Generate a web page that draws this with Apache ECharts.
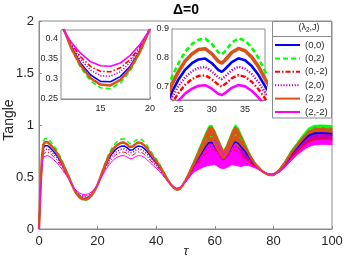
<!DOCTYPE html>
<html><head><meta charset="utf-8">
<script src="https://cdn.jsdelivr.net/npm/echarts@6/dist/echarts.min.js"></script>
<style>html,body{margin:0;padding:0;background:#fff}#c{width:349px;height:262px}</style>
</head><body><div id="c"></div>
<script>
// time grid (tau)
const tau = [0,0.5,1,1.5,2,3,4,5,6,7,
  8,9,10,11,12,13,14,15,16,17,
  18,19,20,21,22,23,24,25,26,27,
  28,29,30,31,31.5,32,33,34,35,36,
  37,38,39,40,41,42,43,44,45,46,
  47,48,49,50,51,52,53,54,55,56,
  57,58,59,60,61,62,63,64,65,66,
  67,68,69,70,71,72,73,74,75,76,
  77,78,79,80,82,84,86,88,90,92,
  94,96,98,100];

const legendNames = ['(0,0)','(0,2)','(0,-2)','(2,0)','(2,2)','(2,-2)'];

// (lambda2,J) = (0,0)
const s00 = [0,0.38,0.66,0.78,0.80,0.80,0.775,0.745,0.71,0.665,
  0.615,0.56,0.505,0.44,0.382,0.339,0.31,0.294,0.293,0.306,
  0.332,0.372,0.426,0.495,0.565,0.628,0.683,0.727,0.76,0.782,
  0.795,0.798,0.782,0.758,0.752,0.762,0.786,0.799,0.792,0.772,
  0.742,0.703,0.668,0.635,0.60,0.555,0.51,0.465,0.428,0.398,
  0.38,0.388,0.42,0.465,0.514,0.568,0.619,0.663,0.708,0.753,
  0.797,0.83,0.832,0.798,0.75,0.708,0.672,0.707,0.753,0.805,
  0.838,0.823,0.788,0.758,0.721,0.68,0.642,0.611,0.586,0.56,
  0.541,0.527,0.52,0.521,0.561,0.629,0.712,0.778,0.843,0.898,
  0.919,0.923,0.921,0.916];
// (0,2)
const s02 = [0,0.40,0.703,0.845,0.869,0.869,0.84,0.804,0.762,0.709,
  0.65,0.584,0.519,0.445,0.377,0.328,0.295,0.278,0.276,0.29,
  0.32,0.366,0.427,0.507,0.59,0.665,0.735,0.783,0.822,0.848,
  0.863,0.867,0.848,0.819,0.812,0.824,0.853,0.868,0.86,0.836,
  0.80,0.754,0.713,0.673,0.632,0.578,0.525,0.472,0.428,0.394,
  0.374,0.383,0.419,0.47,0.525,0.585,0.641,0.693,0.745,0.80,
  0.852,0.892,0.884,0.828,0.771,0.725,0.683,0.725,0.779,0.846,
  0.903,0.892,0.853,0.816,0.768,0.712,0.663,0.622,0.592,0.561,
  0.541,0.525,0.517,0.519,0.568,0.648,0.743,0.816,0.89,0.954,
  0.977,0.979,0.977,0.972];
// (0,-2)
const s0m2 = [0,0.36,0.624,0.725,0.742,0.742,0.721,0.696,0.666,0.628,
  0.586,0.54,0.493,0.435,0.389,0.355,0.331,0.319,0.318,0.328,
  0.349,0.381,0.425,0.485,0.544,0.597,0.643,0.68,0.708,0.727,
  0.738,0.74,0.727,0.707,0.701,0.71,0.73,0.741,0.735,0.718,
  0.693,0.66,0.631,0.603,0.573,0.535,0.497,0.46,0.428,0.404,
  0.389,0.396,0.422,0.458,0.50,0.547,0.591,0.627,0.662,0.696,
  0.728,0.755,0.768,0.762,0.725,0.687,0.658,0.684,0.721,0.755,
  0.757,0.738,0.707,0.687,0.664,0.641,0.617,0.597,0.579,0.557,
  0.541,0.53,0.524,0.524,0.554,0.611,0.683,0.742,0.797,0.842,
  0.861,0.867,0.867,0.862];
// (2,0)
const s20 = [0,0.37,0.642,0.752,0.771,0.771,0.748,0.72,0.688,0.646,
  0.60,0.55,0.499,0.437,0.386,0.348,0.322,0.308,0.307,0.318,
  0.342,0.377,0.425,0.49,0.554,0.612,0.663,0.704,0.734,0.754,
  0.766,0.769,0.754,0.732,0.727,0.736,0.758,0.77,0.763,0.745,
  0.717,0.681,0.649,0.619,0.587,0.545,0.504,0.462,0.428,0.401,
  0.385,0.392,0.421,0.462,0.507,0.558,0.605,0.645,0.685,0.725,
  0.762,0.793,0.80,0.78,0.738,0.698,0.665,0.695,0.737,0.78,
  0.798,0.781,0.748,0.723,0.693,0.661,0.63,0.604,0.583,0.559,
  0.541,0.529,0.522,0.523,0.558,0.62,0.698,0.76,0.82,0.87,
  0.89,0.895,0.894,0.889];
// (2,2)
const s22 = [0,0.39,0.681,0.812,0.834,0.834,0.807,0.774,0.736,0.687,
  0.632,0.572,0.512,0.443,0.379,0.333,0.302,0.286,0.284,0.298,
  0.326,0.369,0.426,0.501,0.577,0.646,0.71,0.754,0.79,0.814,
  0.829,0.832,0.814,0.788,0.782,0.793,0.819,0.833,0.825,0.803,
  0.771,0.728,0.69,0.654,0.616,0.567,0.517,0.468,0.428,0.396,
  0.377,0.385,0.419,0.466,0.522,0.58,0.635,0.685,0.735,0.787,
  0.837,0.875,0.87,0.82,0.765,0.72,0.68,0.72,0.772,0.835,
  0.885,0.873,0.835,0.80,0.755,0.703,0.657,0.619,0.59,0.561,
  0.541,0.526,0.518,0.52,0.565,0.64,0.73,0.80,0.87,0.93,
  0.952,0.955,0.953,0.948];
// (2,-2)
const s2m2 = [0,0.35,0.603,0.693,0.708,0.708,0.689,0.667,0.64,0.606,
  0.569,0.528,0.486,0.433,0.393,0.364,0.343,0.333,0.332,0.34,
  0.359,0.387,0.424,0.479,0.531,0.579,0.62,0.653,0.678,0.694,
  0.704,0.706,0.694,0.676,0.672,0.679,0.697,0.707,0.702,0.687,
  0.664,0.635,0.609,0.584,0.558,0.524,0.49,0.456,0.429,0.407,
  0.394,0.40,0.423,0.451,0.492,0.535,0.575,0.605,0.635,0.662,
  0.687,0.71,0.73,0.74,0.71,0.675,0.65,0.67,0.702,0.725,
  0.71,0.688,0.66,0.645,0.63,0.618,0.602,0.589,0.575,0.556,
  0.541,0.531,0.526,0.525,0.55,0.60,0.665,0.72,0.77,0.81,
  0.828,0.835,0.835,0.83];

// fast-oscillation envelope (half width) on part of the tau grid
const bandTau = [50,51,52,53,54,55,56,57,58,59,
  60,61,62,63,64,65,66,67,68,69,
  70,71,72,73,74,75,76,77,78,79,
  80,82,84,86,88,90,92,94,96,98,100];
const bandHalf = [0.004,0.008,0.015,0.025,0.04,0.055,0.068,0.083,0.10,0.115,
  0.12,0.11,0.09,0.07,0.08,0.098,0.105,0.10,0.082,0.06,
  0.035,0.02,0.012,0.008,0.006,0.005,0.004,0.004,0.004,0.004,
  0.005,0.006,0.008,0.01,0.012,0.015,0.018,0.02,0.022,0.022,0.022];

const inset1XTicks = [15,20];
const inset1YTicks = [0.25,0.3,0.35,0.4];
const inset2XTicks = [25,30,35];
const inset2YTicks = [0.7,0.8,0.9];

const FONT = 'Liberation Sans, Arial, Helvetica, sans-serif';
const AX = '#8c8c8c';
const TXT = '#262626';

const styles = [
  {color:'#0000ff', w:1.5, type:'solid', w2:2.6},
  {color:'#00ff00', w:1.5, type:[5,3], w2:2.6},
  {color:'#ff0000', w:1, type:[5,2,1.5,2], w2:2.4},
  {color:'#bf00bf', w:1.5, type:[1.2,1.6], w2:2.4},
  {color:'#d95319', w:2.5, type:'solid', w2:3.6},
  {color:'#ff00ff', w:1, type:'solid', w2:2.6}
];
const allValues = [s00,s02,s0m2,s20,s22,s2m2];

const series = [];
allValues.forEach((v,k)=>{
  const st = styles[k];
  const pts = tau.map((t,i)=>[t,v[i]]);
  const band = bandTau.map((t,j)=>{const i = tau.indexOf(t); return [t, v[i]-bandHalf[j], v[i]+bandHalf[j]];});
  series.push({
    type:'custom', name: legendNames[k]+' band', xAxisIndex:0, yAxisIndex:0,
    data: band, encode:{x:0, y:[1,2]}, silent:true, animation:false,
    renderItem:(p, api)=>{
      if (p.dataIndex !== 0) return null;
      const up = band.map(d=>api.coord([d[0], d[2]]));
      const lo = band.map(d=>api.coord([d[0], d[1]])).reverse();
      return {type:'polygon', shape:{points: up.concat(lo)},
        style:{fill: st.color, stroke: st.color, lineWidth: 0.8}};
    }
  });
  series.push({type:'line', name: legendNames[k], xAxisIndex:0, yAxisIndex:0, data: pts,
    symbol:'none', animation:false, silent:true,
    lineStyle:{color:st.color, width:st.w, type:st.type}, itemStyle:{color:st.color}});
  series.push({type:'line', name: legendNames[k], xAxisIndex:1, yAxisIndex:1, data: pts,
    symbol:'none', animation:false, silent:true, clip:true,
    lineStyle:{color:st.color, width:Math.max(st.w,1.6), type:st.type}, itemStyle:{color:st.color}});
  series.push({type:'line', name: legendNames[k], xAxisIndex:2, yAxisIndex:2, data: pts,
    symbol:'none', animation:false, silent:true, clip:true,
    lineStyle:{color:st.color, width:st.w2, type:st.type}, itemStyle:{color:st.color}});
});

function insetX(grid, min, max, ticks){
  return {gridIndex:grid, type:'value', min:min, max:max,
    axisLine:{show:true, lineStyle:{color:AX, width:1}},
    axisTick:{show:true, inside:true, length:2, customValues:ticks, lineStyle:{color:AX}},
    axisLabel:{customValues:ticks, fontSize:9, margin:5, color:TXT, fontFamily:FONT},
    splitLine:{show:false}};
}
function insetY(grid, min, max, ticks){
  return {gridIndex:grid, type:'value', min:min, max:max,
    axisLine:{show:true, lineStyle:{color:AX, width:1}},
    axisTick:{show:true, inside:true, length:2, customValues:ticks, lineStyle:{color:AX}},
    axisLabel:{customValues:ticks, fontSize:9, margin:3, color:TXT, fontFamily:FONT},
    splitLine:{show:false}};
}

const option = {
  backgroundColor:'#fff',
  animation:false,
  grid:[
    {left:39, top:21, width:293, height:208, show:true, borderColor:AX, borderWidth:1, backgroundColor:'#fff', containLabel:false, outerBoundsMode:'none'},
    {left:61, top:30, width:89, height:69, show:true, borderColor:AX, borderWidth:1, backgroundColor:'#fff', containLabel:false, outerBoundsMode:'none', z:3},
    {left:172, top:29, width:93, height:71, show:true, borderColor:AX, borderWidth:1, backgroundColor:'#fff', containLabel:false, outerBoundsMode:'none', z:3}
  ],
  xAxis:[
    {gridIndex:0, type:'value', min:0, max:100, interval:20,
     axisLine:{show:true, lineStyle:{color:AX, width:1}},
     axisTick:{show:true, inside:true, length:3, lineStyle:{color:AX}},
     axisLabel:{fontSize:13, margin:6, color:TXT, fontFamily:FONT},
     splitLine:{show:false}},
    insetX(1, 11, 20, inset1XTicks),
    insetX(2, 24, 38, inset2XTicks)
  ],
  yAxis:[
    {gridIndex:0, type:'value', min:0, max:2, interval:0.5,
     axisLine:{show:true, lineStyle:{color:AX, width:1}},
     axisTick:{show:true, inside:true, length:3, lineStyle:{color:AX}},
     axisLabel:{fontSize:13, margin:5, color:TXT, fontFamily:FONT},
     splitLine:{show:false}},
    insetY(1, 0.25, 0.4225, inset1YTicks),
    insetY(2, 0.655, 0.9, inset2YTicks)
  ],
  legend:{
    data: legendNames, orient:'vertical', left:274, top:40, padding:0,
    itemWidth:25, itemHeight:10, itemGap:3.4, selectedMode:false,
    itemStyle:{opacity:0},
    textStyle:{fontSize:9.5, lineHeight:10, color:TXT, fontFamily:FONT},
    z:6
  },
  graphic:[
    {type:'rect', z:5, shape:{x:272.5, y:21.5, width:59, height:96.5},
     style:{fill:'#fff', stroke:AX, lineWidth:1}},
    {type:'line', z:5, shape:{x1:272.5, y1:36.5, x2:331.5, y2:36.5},
     style:{stroke:AX, lineWidth:1}},
    {type:'text', z:6, x:309, y:28,
     style:{text:'(λ{s|2},J)', rich:{s:{fontSize:6.5, verticalAlign:'bottom', padding:[5,0,0,0], fill:TXT, fontFamily:FONT}},
       fontSize:9, fill:TXT, fontFamily:FONT, align:'center', verticalAlign:'middle'}},
    {type:'text', z:6, x:186, y:10,
     style:{text:'Δ=0', fontSize:14, fontWeight:'bold', fill:'#000', fontFamily:FONT, align:'center', verticalAlign:'middle'}},
    {type:'text', z:6, x:9, y:120, rotation:Math.PI/2,
     style:{text:'Tangle', fontSize:14, fill:TXT, fontFamily:FONT, align:'center', verticalAlign:'middle'}},
    {type:'text', z:6, x:186, y:251,
     style:{text:'τ', fontSize:13, fontStyle:'italic', fill:TXT, fontFamily:FONT, align:'center', verticalAlign:'middle'}}
  ],
  series: series
};

const chart = echarts.init(document.getElementById('c'), null, {renderer:'canvas', width:349, height:262});
chart.setOption(option);
</script>
</body></html>
